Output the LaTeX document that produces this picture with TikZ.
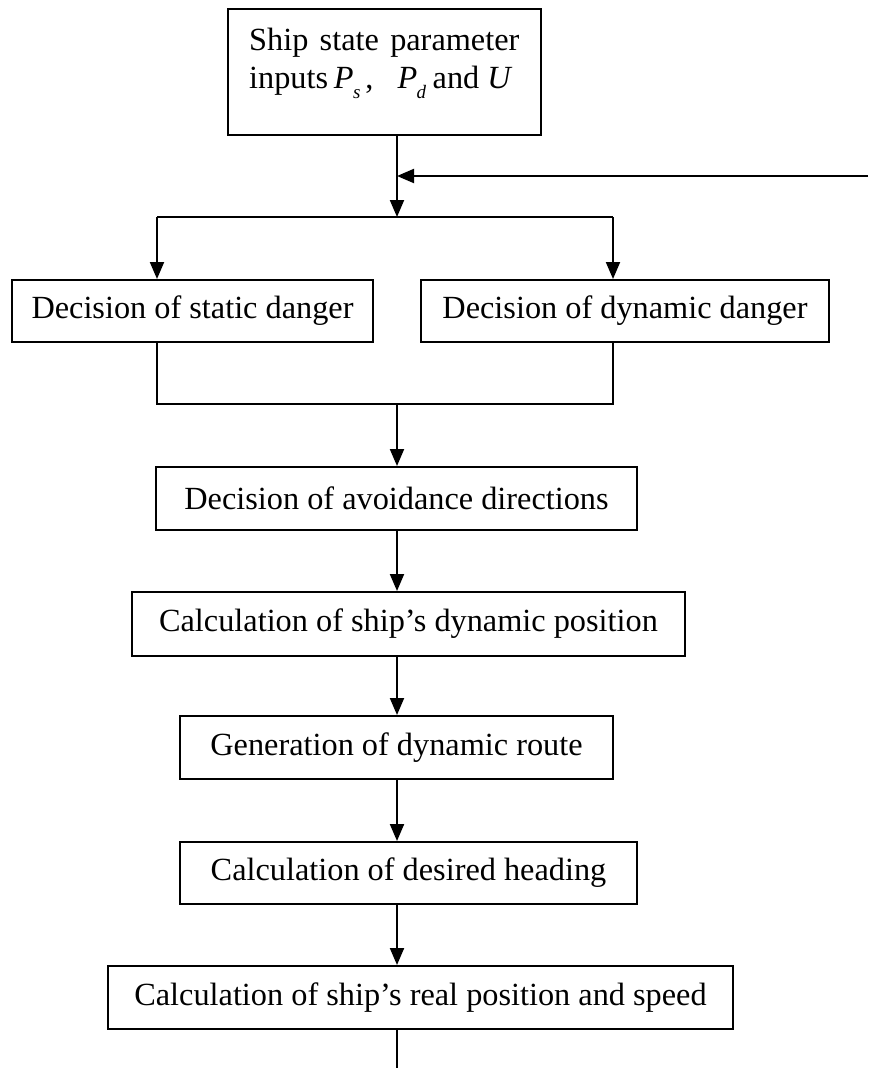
\documentclass[tikz,border=0pt]{standalone}
\usepackage{fontspec}
\setmainfont{Liberation Serif}
\usetikzlibrary{arrows.meta}
\newcommand{\subit}[1]{\raisebox{-0.32em}{\fontsize{19}{19}\selectfont\textit{#1}}}
\tikzset{
  box/.style={draw, line width=2pt, inner sep=0pt, minimum height=63pt, font=\fontsize{32.3}{38}\selectfont},
  plain/.style={inner sep=0pt, font=\fontsize{32.3}{38}\selectfont},
  conn/.style={line width=2pt},
  arr/.style={line width=2pt, -{Triangle[length=17pt,width=14pt]}}
}
\begin{document}
\begin{tikzpicture}[x=1pt,y=-1pt]
\useasboundingbox (0,0) rectangle (868,1068);
% top box
\node[box, minimum width=313pt, minimum height=126pt] (top) at (384.5,72) {};
\node[plain, anchor=base west] (t1) at (249,50) {Ship\hspace{0.35em}state\hspace{0.35em}parameter};
\node[plain, anchor=base west] (t2) at (249,88) {inputs\hspace{0.18em}\textit{P}\hspace{-0.02em}\subit{s}\hspace{0.15em},\hspace{0.75em}\textit{P}\hspace{-0.02em}\subit{d}\hspace{0.2em}and \textit{U}};
% coordinates on the main axis
\coordinate (a1) at (397,135);
\coordinate (fbin) at (397,176);
\coordinate (fb) at (868,176);
\coordinate (sp) at (397,217);
\coordinate (spl) at (157,217);
\coordinate (spr) at (613,217);
% danger boxes
\node[box, minimum width=361pt, minimum height=62pt] (static) at (192.5,311) {Decision of static danger};
\node[box, minimum width=408pt, minimum height=62pt] (dynamic) at (625,311) {Decision of dynamic danger};
\coordinate (jl) at (157,404);
\coordinate (jr) at (613,404);
\coordinate (jm) at (397,404);
% chain
\node[box, minimum width=481pt] (avoid) at (396.5,498.5) {Decision of avoidance directions};
\node[box, minimum width=553pt, minimum height=64pt] (dynpos) at (408.5,624) {Calculation of ship’s dynamic position};
\node[box, minimum width=433pt] (route) at (396.5,747.5) {Generation of dynamic route};
\node[box, minimum width=457pt, minimum height=62pt] (heading) at (408.5,873) {Calculation of desired heading};
\node[box, minimum width=625pt] (real) at (420.5,997.5) {Calculation of ship’s real position and speed};
\coordinate (endc) at (397,1068);
% connectors
\draw[arr] (a1) -- (sp);
\draw[arr] (fb) -- (fbin);
\draw[conn] (spl) -- (spr);
\draw[arr] (spl) -- (spl |- static.north);
\draw[arr] (spr) -- (spr |- dynamic.north);
\draw[conn] (jl |- static.south) -- (jl) -- (jr) -- (jr |- dynamic.south);
\draw[arr] (jm) -- (jm |- avoid.north);
\draw[arr] (jm |- avoid.south) -- (jm |- dynpos.north);
\draw[arr] (jm |- dynpos.south) -- (jm |- route.north);
\draw[arr] (jm |- route.south) -- (jm |- heading.north);
\draw[arr] (jm |- heading.south) -- (jm |- real.north);
\draw[conn] (jm |- real.south) -- (endc);
\end{tikzpicture}
\end{document}
